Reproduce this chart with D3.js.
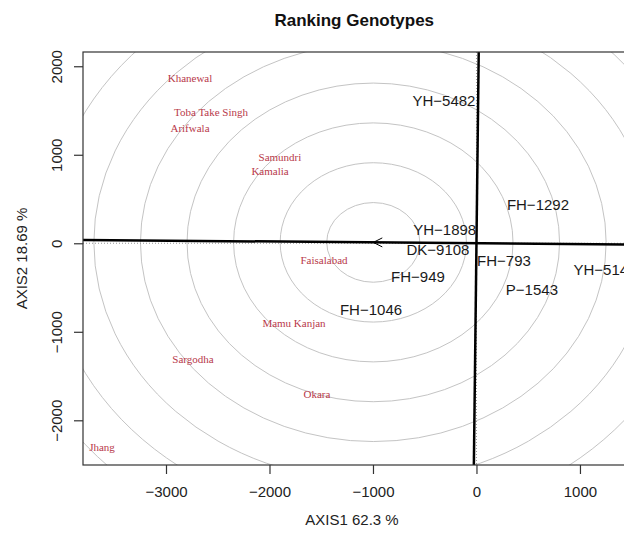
<!DOCTYPE html>
<html>
<head>
<meta charset="utf-8">
<script src="https://cdn.jsdelivr.net/npm/d3@7"></script>
<style>
  html, body { margin: 0; padding: 0; background: #fff; }
  svg { display: block; }
</style>
</head>
<body>
<svg id="chart" width="624" height="533"></svg>
<script>
// ---- data ----
const genotypeNames = ["YH\u22125482", "FH\u22121292", "YH\u22121898", "DK\u22129108", "FH\u2212793", "YH\u22125142", "P\u22121543", "FH\u2212949", "FH\u22121046"];
const genotypeX = [-314, 594, -307, -372, 266, 1242, 536, -565, -1019];
const genotypeY = [1608, 433, 150, -76, -200, -294, -520, -381, -754];

const envNames = ["Khanewal", "Toba Take Singh", "Arifwala", "Samundri", "Kamalia", "Faisalabad", "Mamu Kanjan", "Sargodha", "Okara", "Jhang"];
const envX = [-2768, -2565, -2768, -1899, -1995, -1473, -1763, -2739, -1541, -3618];
const envY = [1869, 1484, 1303, 976, 818, -188, -901, -1307, -1703, -2302];

const avgEnv = [-997, 10];        // average environment (arrow tip / circle centre)
const ringStep = 450;             // radius step of concentric circles
const ringCount = [1, 2, 3, 4, 5, 6, 7, 8, 9, 10];

const xTicks = [-3000, -2000, -1000, 0, 1000];
const yTicks = [-2000, -1000, 0, 1000, 2000];
const xDomain = [-3802, 1440];
const yDomain = [-2505, 2161];

const titleText = "Ranking Genotypes";
const xLabel = "AXIS1 62.3 %";
const yLabel = "AXIS2 18.69 %";

// ---- layout ----
const svg = d3.select("#chart");
const mLeft = 83, mRight = 625.5, mTop = 52, mBottom = 465;
const x = d3.scaleLinear().domain(xDomain).range([mLeft, mRight]);
const y = d3.scaleLinear().domain(yDomain).range([mBottom, mTop]);
const fmt = d3.format("d");

svg.append("defs").append("clipPath").attr("id", "plotclip")
  .append("rect").attr("x", mLeft).attr("y", mTop).attr("width", mRight - mLeft).attr("height", mBottom - mTop);

const plot = svg.append("g").attr("clip-path", "url(#plotclip)");

// concentric circles (ellipses due to unequal scales)
plot.selectAll("ellipse.ring").data(ringCount).join("ellipse")
  .attr("class", "ring")
  .attr("cx", x(avgEnv[0]))
  .attr("cy", y(avgEnv[1]))
  .attr("rx", d => x(d * ringStep) - x(0))
  .attr("ry", d => y(0) - y(d * ringStep))
  .attr("fill", "none")
  .attr("stroke", "#c4c4c4")
  .attr("stroke-width", 1);

// dotted zero lines
plot.append("line").attr("x1", mLeft).attr("x2", mRight).attr("y1", y(0)).attr("y2", y(0))
  .attr("stroke", "#999").attr("stroke-width", 1).attr("stroke-dasharray", "1,2");
plot.append("line").attr("x1", x(0)).attr("x2", x(0)).attr("y1", mTop).attr("y2", mBottom)
  .attr("stroke", "#999").attr("stroke-width", 1).attr("stroke-dasharray", "1,2");

// AEC abscissa and ordinate
const slope = avgEnv[1] / avgEnv[0];
plot.append("line")
  .attr("x1", x(xDomain[0])).attr("y1", y(slope * xDomain[0]))
  .attr("x2", x(xDomain[1])).attr("y2", y(slope * xDomain[1]))
  .attr("stroke", "#000").attr("stroke-width", 2.5);
const pslope = -slope; // x per unit y for perpendicular
plot.append("line")
  .attr("x1", x(pslope * yDomain[0])).attr("y1", y(yDomain[0]))
  .attr("x2", x(pslope * yDomain[1])).attr("y2", y(yDomain[1]))
  .attr("stroke", "#000").attr("stroke-width", 2.5);

// arrow head at the average environment
const ax = x(avgEnv[0]), ay = y(avgEnv[1]);
plot.append("path")
  .attr("d", `M${ax + 9},${ay - 4.5} L${ax},${ay} L${ax + 9},${ay + 4.5}`)
  .attr("fill", "none").attr("stroke", "#000").attr("stroke-width", 1);

// environment labels
plot.selectAll("text.env").data(envNames).join("text")
  .attr("class", "env")
  .attr("x", (d, i) => x(envX[i]))
  .attr("y", (d, i) => y(envY[i]))
  .attr("dy", "0.35em")
  .attr("text-anchor", "middle")
  .attr("font-family", "'Liberation Serif', 'Times New Roman', serif")
  .attr("font-size", 11)
  .attr("fill", "#b8394a")
  .text(d => d);

// genotype labels
plot.selectAll("text.gen").data(genotypeNames).join("text")
  .attr("class", "gen")
  .attr("x", (d, i) => x(genotypeX[i]))
  .attr("y", (d, i) => y(genotypeY[i]))
  .attr("dy", "0.35em")
  .attr("text-anchor", "middle")
  .attr("font-family", "'Liberation Sans', Arial, sans-serif")
  .attr("font-size", 15)
  .attr("fill", "#1a1a1a")
  .text(d => d);

// box
svg.append("rect").attr("x", mLeft).attr("y", mTop).attr("width", mRight - mLeft).attr("height", mBottom - mTop)
  .attr("fill", "none").attr("stroke", "#333").attr("stroke-width", 1.2);

// axes
const xAxis = svg.append("g").attr("transform", `translate(0,${mBottom})`)
  .call(d3.axisBottom(x).tickValues(xTicks).tickFormat(fmt).tickSize(9).tickPadding(12));
const yAxis = svg.append("g").attr("transform", `translate(${mLeft},0)`)
  .call(d3.axisLeft(y).tickValues(yTicks).tickFormat(fmt).tickSize(9).tickPadding(4));
[xAxis, yAxis].forEach(g => {
  g.select(".domain").remove();
  g.selectAll(".tick line").attr("stroke", "#333").attr("stroke-width", 1.2);
  g.selectAll(".tick text").attr("font-family", "'Liberation Sans', Arial, sans-serif")
    .attr("font-size", 15).attr("fill", "#222");
});
yAxis.selectAll(".tick text")
  .attr("text-anchor", "middle")
  .attr("x", 0).attr("dy", 0)
  .attr("transform", "translate(-27,0) rotate(-90)")
  .attr("dominant-baseline", "central");

// title and axis labels
svg.append("text").attr("x", (mLeft + mRight) / 2).attr("y", 26)
  .attr("text-anchor", "middle")
  .attr("font-family", "'Liberation Sans', Arial, sans-serif")
  .attr("font-weight", "bold").attr("font-size", 17).attr("fill", "#111")
  .text(titleText);
svg.append("text").attr("x", 352).attr("y", 525)
  .attr("text-anchor", "middle")
  .attr("font-family", "'Liberation Sans', Arial, sans-serif")
  .attr("font-size", 15).attr("fill", "#222")
  .text(xLabel);
svg.append("text")
  .attr("transform", `translate(21,${(mTop + mBottom) / 2}) rotate(-90)`)
  .attr("text-anchor", "middle")
  .attr("dominant-baseline", "central")
  .attr("font-family", "'Liberation Sans', Arial, sans-serif")
  .attr("font-size", 15).attr("fill", "#222")
  .text(yLabel);
</script>
</body>
</html>
